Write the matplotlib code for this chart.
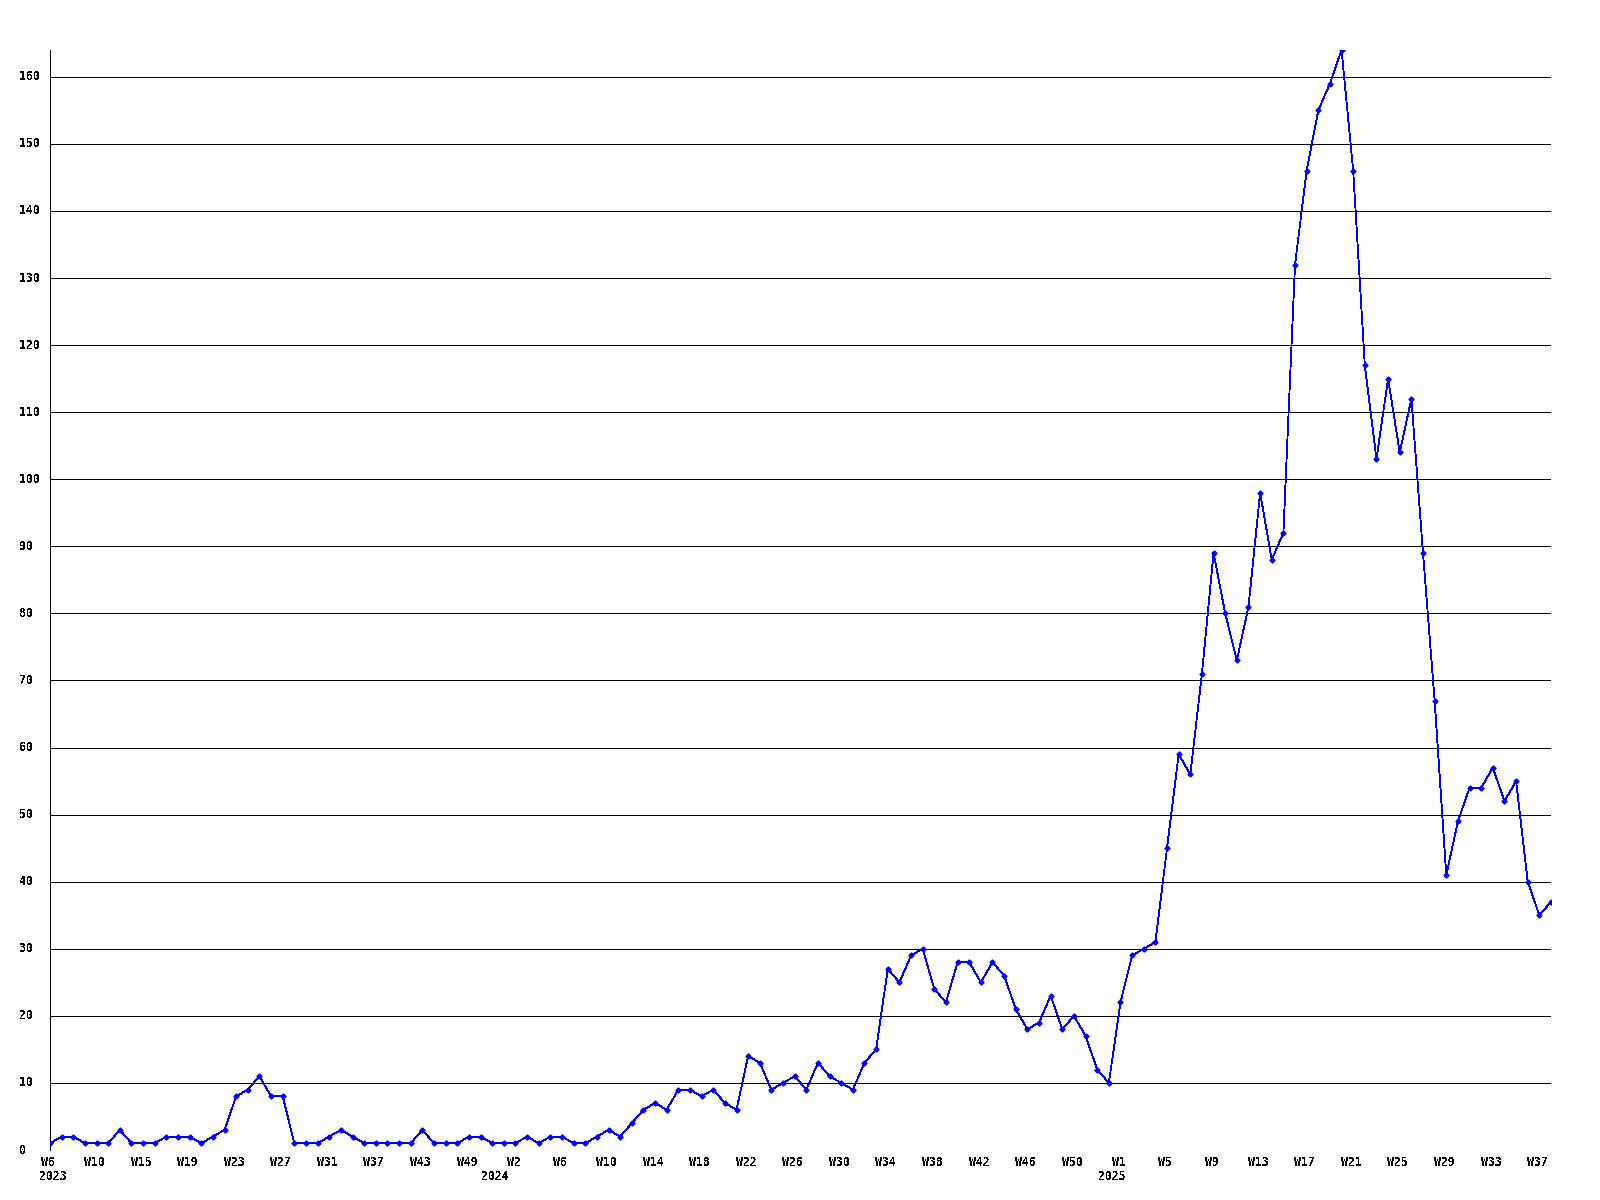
import numpy as np
import matplotlib
matplotlib.use("Agg")
import matplotlib.pyplot as plt
import matplotlib.transforms as mtransforms

# weekly counts, one entry per point on the chart
counts = [1, 2, 2, 1, 1, 1, 3, 1, 1, 1,
          2, 2, 2, 1, 2, 3, 8, 9, 11, 8,
          8, 1, 1, 1, 2, 3, 2, 1, 1, 1,
          1, 1, 3, 1, 1, 1, 2, 2, 1, 1,
          1, 2, 1, 2, 2, 1, 1, 2, 3, 2,
          4, 6, 7, 6, 9, 9, 8, 9, 7, 6,
          14, 13, 9, 10, 11, 9, 13, 11, 10, 9,
          13, 15, 27, 25, 29, 30, 24, 22, 28, 28,
          25, 28, 26, 21, 18, 19, 23, 18, 20, 17,
          12, 10, 22, 29, 30, 31, 45, 59, 56, 71,
          89, 80, 73, 81, 98, 88, 92, 132, 146, 155,
          159, 164, 146, 117, 103, 115, 104, 112, 89, 67,
          41, 49, 54, 54, 57, 52, 55, 40, 35, 37]

# a week label every 4th point
week_labels = ["W6", "W10", "W15", "W19", "W23", "W27", "W31", "W37", "W43", "W49",
               "W2", "W6", "W10", "W14", "W18", "W22", "W26", "W30", "W34", "W38",
               "W42", "W46", "W50",
               "W1", "W5", "W9", "W13", "W17", "W21", "W25", "W29", "W33", "W37"]
years = ["2023", "2024", "2025"]
year_idx = [0, 38, 91]
yticks = list(range(0, 170, 10))

plt.rcParams['text.antialiased'] = False
font = dict(family="DejaVu Sans Mono", weight="bold", size=8.3)

fig = plt.figure(figsize=(16, 12), dpi=100)
fig.patch.set_facecolor("white")
ax = fig.add_axes([50/1600, 1 - 1150/1200, 1501/1600, 1100/1200])

x = np.arange(len(counts))
for v in yticks:
    ax.axhline(v, color="black", lw=0.72, antialiased=False, zorder=1)
ax.plot(x, counts, color="#0000ff", lw=0.6, marker="D", ms=2.6,
        antialiased=False, zorder=3)

ax.set_xlim(0, len(counts) - 1)
ax.set_ylim(0, max(counts))
for s in ["top", "right", "bottom"]:
    ax.spines[s].set_visible(False)
ax.spines["left"].set_linewidth(0.72)
ax.set_xticks([])
ax.set_yticks([])

# y labels, left aligned near the figure edge
ytr = mtransforms.blended_transform_factory(fig.transFigure, ax.transData)
for v in yticks:
    ax.text(19/1600, v, str(v), transform=ytr, ha="left", va="center",
            clip_on=False, **font)

# x labels below the axis
xtr = mtransforms.blended_transform_factory(ax.transData, fig.transFigure)
shift = mtransforms.ScaledTranslation(-2/100, 0, fig.dpi_scale_trans)
for i, lab in enumerate(week_labels):
    ax.text(4 * i, 1 - 1163/1200, lab, transform=xtr + shift, ha="center",
            va="center", clip_on=False, **font)
yshift = mtransforms.ScaledTranslation(3/100, 0, fig.dpi_scale_trans)
for i, lab in zip(year_idx, years):
    ax.text(i, 1 - 1177/1200, lab, transform=xtr + yshift, ha="center",
            va="center", clip_on=False, **font)

fig.savefig("out.png", dpi=100)
